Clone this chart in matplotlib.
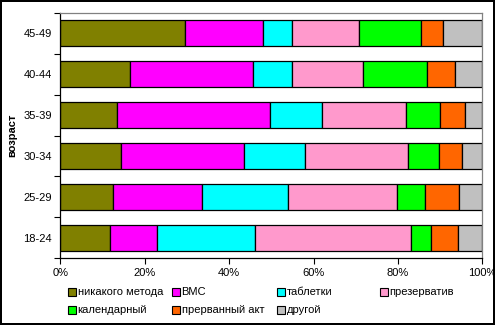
import matplotlib.pyplot as plt
from matplotlib.patches import Rectangle
from matplotlib.ticker import FixedLocator, PercentFormatter
import numpy as np

plt.rcParams['font.family'] = ['Liberation Sans', 'DejaVu Sans']

ages = ['18-24', '25-29', '30-34', '35-39', '40-44', '45-49']
methods = ['никакого метода', 'ВМС', 'таблетки', 'презерватив',
           'календарный', 'прерванный акт', 'другой']
colors = ['#808000', '#FF00FF', '#00FFFF', '#FF99CC',
          '#00FF00', '#FF6600', '#C0C0C0']

# share of each method per age group, %
none_method = [11.7, 12.6, 14.5, 13.5, 16.6, 29.6]
iud = [11.3, 21.0, 29.1, 36.1, 29.1, 18.5]
pills = [23.2, 20.3, 14.5, 12.5, 9.3, 6.9]
condom = [37.0, 26.0, 24.4, 19.9, 16.8, 15.9]
calendar = [4.7, 6.6, 7.3, 8.0, 15.2, 14.6]
withdrawal = [6.4, 8.0, 5.5, 6.0, 6.6, 5.3]
other = [5.7, 5.5, 4.7, 4.0, 6.4, 9.2]
series = [none_method, iud, pills, condom, calendar, withdrawal, other]

W, H = 495, 325
fig = plt.figure(figsize=(W / 100, H / 100), dpi=100)
fig.patch.set_edgecolor('black')
fig.patch.set_linewidth(1.5)

ax = fig.add_axes([60.3 / W, 1 - 258.3 / H, 422 / W, 245.6 / H])

y = np.arange(len(ages))
data = np.array(series, dtype=float)
data = data / data.sum(axis=0) * 100
left = np.zeros(len(ages))
for vals, col in zip(data, colors):
    ax.barh(y, vals, left=left, height=0.625, color=col,
            edgecolor='black', linewidth=0.9)
    left += vals

ax.set_xlim(0, 100)
ax.set_ylim(-0.5, len(ages) - 0.5)
ax.set_xticks(np.arange(0, 101, 20))
ax.xaxis.set_major_formatter(PercentFormatter(decimals=0))
ax.set_yticks(y)
ax.set_yticklabels(ages)
ax.yaxis.set_minor_locator(FixedLocator(np.arange(-0.5, len(ages), 1)))
ax.tick_params(axis='y', which='major', length=0, pad=6, labelsize=8)
ax.tick_params(axis='y', which='minor', length=4, width=0.8, color='black')
ax.tick_params(axis='x', length=4, width=0.8, pad=3, labelsize=8)

for s in ['top', 'right']:
    ax.spines[s].set_color('#808080')
for s in ['left', 'bottom']:
    ax.spines[s].set_color('black')
for s in ax.spines.values():
    s.set_linewidth(0.9)

fig.text(12 / W, 1 - 135.5 / H, 'возраст', rotation=90, fontsize=8,
         fontweight='bold', ha='center', va='center')

# legend laid out in two rows of four columns
col_x = [68, 172, 277, 380]
row_y = [291.7, 310.0]
for i, (name, col) in enumerate(zip(methods, colors)):
    r, c = divmod(i, 4)
    x0 = col_x[c]
    yc = row_y[r]
    fig.patches.append(Rectangle((x0 / W, 1 - (yc + 3.8) / H), 7.5 / W, 7.5 / H,
                                 transform=fig.transFigure, facecolor=col,
                                 edgecolor='black', linewidth=0.8))
    fig.text((x0 + 9.5) / W, 1 - yc / H, name, fontsize=8,
             ha='left', va='center')

fig.savefig('out.png', dpi=100)
